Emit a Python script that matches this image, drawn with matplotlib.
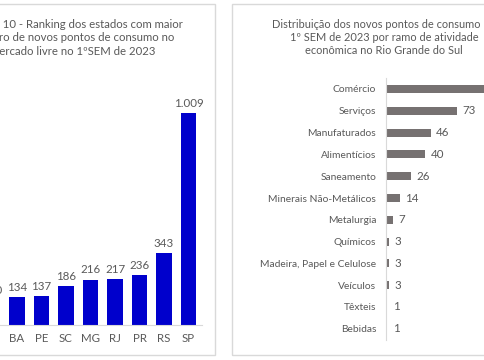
import matplotlib
matplotlib.use("Agg")
import matplotlib.pyplot as plt
from matplotlib.patches import Rectangle

# ---- data ----
states = ["GO", "BA", "PE", "SC", "MG", "RJ", "PR", "RS", "SP"]
state_values = [120, 134, 137, 186, 216, 217, 236, 343, 1009]
state_labels = ["120", "134", "137", "186", "216", "217", "236", "343", "1.009"]

sectors = ["Comércio", "Serviços", "Manufaturados", "Alimentícios", "Saneamento",
           "Minerais Não-Metálicos", "Metalurgia", "Químicos",
           "Madeira, Papel e Celulose", "Veículos", "Têxteis", "Bebidas"]
sector_values = [130, 73, 46, 40, 26, 14, 7, 3, 3, 3, 1, 1]

title_left = ("Gráfico 10 - Ranking dos estados com maior\n"
              "número de novos pontos de consumo no\n"
              "mercado livre no 1ºSEM de 2023")
title_right = ("Distribuição dos novos pontos de consumo no\n"
               "1º SEM de 2023 por ramo de atividade\n"
               "econômica no Rio Grande do Sul")

plt.rcParams['font.family'] = ['Lato', 'DejaVu Sans']
TXT = "#595959"
GRID = "#D9D9D9"
W, H = 485, 360
fig = plt.figure(figsize=(4.85, 3.6), dpi=100)

def fx(px):
    return px / W

def fy(py):
    return 1 - py / H

def box(l, t, r, b):
    return [fx(l), fy(b), fx(r) - fx(l), fy(t) - fy(b)]

# panel frames
fig.patches.append(Rectangle((fx(-20), fy(355)), fx(215) - fx(-20), fy(4) - fy(355),
                             transform=fig.transFigure, fill=False, ec=GRID, lw=1.0))
fig.patches.append(Rectangle((fx(232), fy(355)), fx(520) - fx(232), fy(4) - fy(355),
                             transform=fig.transFigure, fill=False, ec=GRID, lw=1.0))

# ---- left chart ----
axL = fig.add_axes(box(-60, 70, 202, 325))
x = list(range(len(states)))
axL.bar(x, state_values, width=0.65, color="#0000CC")
step = 24.5
axL.set_xlim((-60 - 17) / step + 1, (202 - 17) / step + 1)
axL.set_ylim(0, 1009 * (325 - 70) / (325 - 113))
for xi, v, lab in zip(x, state_values, state_labels):
    axL.annotate(lab, (xi, v), xytext=(0, 3), textcoords="offset points",
                 ha="center", va="bottom", fontsize=8.3, color=TXT)
axL.set_xticks(x)
axL.set_xticklabels(states, fontsize=8.3, color=TXT)
axL.tick_params(axis="x", length=0, pad=6)
axL.set_yticks([])
for s in ["top", "right", "left"]:
    axL.spines[s].set_visible(False)
axL.spines["bottom"].set_color(GRID)
axL.patch.set_alpha(0)
fig.text(fx(73), fy(18.5), title_left, ha="center", va="top", fontsize=8.2,
         color=TXT, linespacing=1.3)

# ---- right chart ----
axR = fig.add_axes(box(386, 78, 560, 340))
y = list(range(len(sectors)))
axR.barh(y, sector_values, height=0.36, color="#767171")
axR.set_xlim(0, (560 - 386) / 0.97)
axR.set_ylim((340 - 89) / 21.8, (78 - 89) / 21.8)
for yi, v in zip(y, sector_values):
    axR.annotate(str(v), (v, yi), xytext=(4, 0), textcoords="offset points",
                 ha="left", va="center", fontsize=8.3, color=TXT)
axR.set_yticks(y)
axR.set_yticklabels(sectors, fontsize=7.4, color=TXT)
axR.tick_params(axis="y", length=0, pad=7)
axR.set_xticks([])
for s in ["top", "right", "bottom"]:
    axR.spines[s].set_visible(False)
axR.spines["left"].set_color(GRID)
axR.patch.set_alpha(0)
fig.text(fx(384), fy(18.5), title_right, ha="center", va="top", fontsize=7.9,
         color=TXT, linespacing=1.25)

fig.savefig("out.png", dpi=100)
